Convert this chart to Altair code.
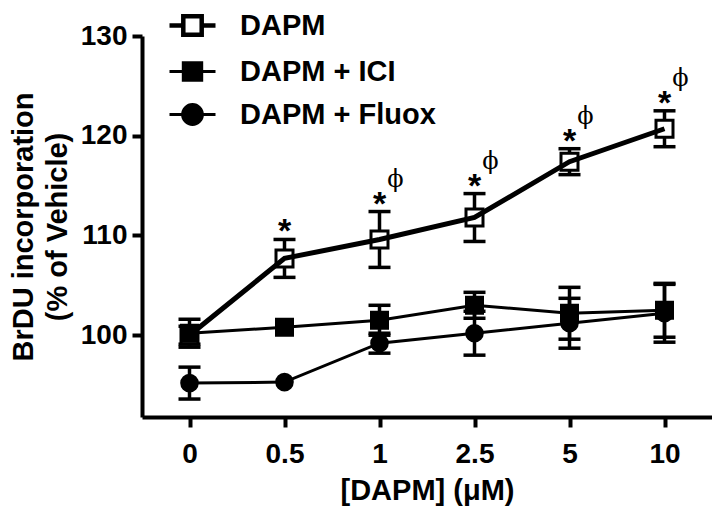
import altair as alt
import pandas as pd

# ---- data ----
doses = ["0", "0.5", "1", "2.5", "5", "10"]
series_names = ["DAPM", "DAPM + ICI", "DAPM + Fluox"]
dapm_mean = [100.0, 107.7, 109.6, 111.8, 117.4, 120.7]
dapm_sem = [0.9, 1.9, 2.8, 2.4, 1.3, 1.8]
ici_mean = [100.2, 100.8, 101.5, 103.0, 102.2, 102.5]
ici_sem = [1.4, 0.0, 1.5, 1.3, 2.6, 2.7]
fluox_mean = [95.2, 95.3, 99.2, 100.2, 101.2, 102.2]
fluox_sem = [1.6, 0.0, 1.0, 2.2, 2.5, 2.9]
star_doses = ["0.5", "1", "2.5", "5", "10"]
phi_doses = ["1", "2.5", "5", "10"]

rows = []
for s, means, sems in zip(series_names, [dapm_mean, ici_mean, fluox_mean],
                          [dapm_sem, ici_sem, fluox_sem]):
    for i, d in enumerate(doses):
        rows.append({"dose": d, "series": s, "mean": means[i], "sem": sems[i],
                     "lo": means[i] - sems[i], "hi": means[i] + sems[i]})
df = pd.DataFrame(rows)

dapm_hi = {d: m + e for d, m, e in zip(doses, dapm_mean, dapm_sem)}
stars = pd.DataFrame({"dose": star_doses, "hi": [dapm_hi[d] for d in star_doses]})
phis = pd.DataFrame({"dose": phi_doses, "hi": [dapm_hi[d] for d in phi_doses]})

FONT = "Liberation Sans"

# marker shapes (unit paths)
point_shapes = [
    "M-0.85,-0.85H0.85V0.85H-0.85Z",
    "M-0.8,-0.8H0.8V0.8H-0.8Z",
    "M-0.78,0A0.78,0.78,0,1,0,0.78,0A0.78,0.78,0,1,0,-0.78,0Z",
]
legend_shapes = [
    "M-1,0H-0.4M0.4,0H1M-0.4,-0.4H0.4V0.4H-0.4Z",
    "M-1,0H1M-0.4,-0.38H0.4V0.38H-0.4Z",
    "M-1,0H1M-0.43,0A0.43,0.43,0,1,0,0.43,0A0.43,0.43,0,1,0,-0.43,0Z",
]

legend = alt.Legend(
    title=None, orient="none", legendX=25, legendY=-36, direction="vertical",
    symbolSize=2116, symbolStrokeColor="black", symbolOpacity=1,
    labelFont=FONT, labelFontSize=29, labelFontWeight="bold",
    labelColor="black", labelOffset=22, labelLimit=500, rowPadding=3, padding=0,
)

x_enc = alt.X(
    "dose:N", sort=doses, scale=alt.Scale(type="point", padding=0.5),
    axis=alt.Axis(title="[DAPM] (μM)", labelAngle=0, labelPadding=13,
                  titlePadding=8),
)


def y_enc(field):
    return alt.Y(
        f"{field}:Q",
        scale=alt.Scale(domain=[91.8, 130], nice=False, zero=False),
        axis=alt.Axis(values=[100, 110, 120, 130],
                      title=["BrDU incorporation", "(% of Vehicle)"],
                      labelPadding=5, titlePadding=8, titleLineHeight=34),
    )


base = alt.Chart(df)
has_err = "datum.sem > 0"

rules = base.transform_filter(has_err).mark_rule(
    color="black", strokeWidth=3.5
).encode(x=x_enc, y=y_enc("lo"), y2="hi:Q")

caps_lo = base.transform_filter(has_err).mark_point(
    shape="M-1,0H1", size=484, color="black", strokeWidth=3.5, opacity=1, filled=False
).encode(x=x_enc, y=y_enc("lo"))

caps_hi = base.transform_filter(has_err).mark_point(
    shape="M-1,0H1", size=484, color="black", strokeWidth=3.5, opacity=1, filled=False
).encode(x=x_enc, y=y_enc("hi"))

points = base.mark_point(
    size=400, opacity=1, filled=True, stroke="black", strokeWidth=3
).encode(
    x=x_enc, y=y_enc("mean"),
    shape=alt.Shape("series:N", scale=alt.Scale(domain=series_names, range=point_shapes),
                    legend=None),
    fill=alt.Fill("series:N", scale=alt.Scale(domain=series_names,
                                              range=["white", "black", "black"]),
                  legend=None),
)

lines = base.mark_line(color="black").encode(
    x=x_enc, y=y_enc("mean"), detail="series:N",
    strokeWidth=alt.StrokeWidth("series:N",
                                scale=alt.Scale(type="ordinal", domain=series_names,
                                                range=[5, 3, 3]),
                                legend=None),
)

# invisible layer that only carries the legend (symbols with line through)
legend_layer = base.transform_filter("datum.dose === '0'").mark_point(
    size=0, opacity=1, filled=True
).encode(
    x=x_enc, y=y_enc("mean"),
    shape=alt.Shape("series:N", scale=alt.Scale(domain=series_names, range=legend_shapes),
                    legend=legend),
    fill=alt.Fill("series:N", scale=alt.Scale(domain=series_names,
                                              range=["white", "black", "black"]),
                  legend=legend),
    stroke=alt.Stroke("series:N", scale=alt.Scale(domain=series_names,
                                                  range=["black", "black", "black"]),
                      legend=legend),
    strokeWidth=alt.StrokeWidth("series:N",
                                scale=alt.Scale(type="ordinal", domain=series_names,
                                                range=[4.5, 3, 3]),
                                legend=legend),
)

star_text = alt.Chart(stars).mark_text(
    text="*", font=FONT, fontWeight="bold", fontSize=34, baseline="alphabetic",
    align="center", dy=3, color="black"
).encode(x=x_enc, y=y_enc("hi"))

phi_text = alt.Chart(phis).mark_text(
    text="ϕ", font="DejaVu Serif", fontSize=24, baseline="alphabetic",
    align="center", dx=16, dy=-25, color="black"
).encode(x=x_enc, y=y_enc("hi"))

chart = alt.layer(
    rules, caps_lo, caps_hi, points, lines, star_text, phi_text, legend_layer
).resolve_scale(
    shape="independent", fill="independent", strokeWidth="independent",
    stroke="independent"
).properties(
    width=570, height=381,
    autosize=alt.AutoSizeParams(type="none"),
    padding={"left": 134, "top": 28, "right": 0, "bottom": 89},
    background="white",
).configure_view(stroke=None).configure_axis(
    grid=False, domainColor="black", domainWidth=4, tickColor="black",
    tickWidth=4, tickSize=10, labelFont=FONT, labelFontSize=28,
    labelFontWeight="bold", labelColor="black", titleFont=FONT,
    titleFontSize=29, titleFontWeight="bold", titleColor="black",
)

chart.save("out.html", embed_options={"renderer": "svg", "actions": False})
